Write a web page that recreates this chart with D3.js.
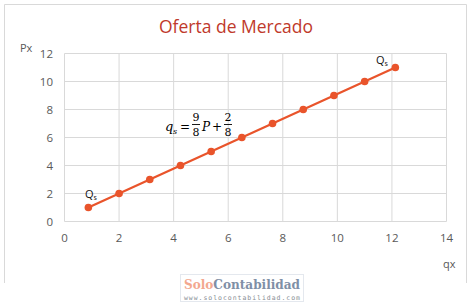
<!DOCTYPE html>
<html>
<head>
<meta charset="utf-8">
<script src="https://cdn.jsdelivr.net/npm/d3@7.9.0/dist/d3.min.js"></script>
<style>
  body { margin: 0; background: #fff; }
  svg { display: block; font-family: "Open Sans", "Liberation Sans", sans-serif; }
</style>
</head>
<body>
<svg id="chart" width="472" height="304"></svg>
<script>
// supply points: price P and quantity qx
const priceP = [1, 2, 3, 4, 5, 6, 7, 8, 9, 10, 11];
const quantityQ = [0.875, 2, 3.125, 4.25, 5.375, 6.5, 7.625, 8.75, 9.875, 11, 12.125];
const xTicks = [0, 2, 4, 6, 8, 10, 12, 14];
const yTicks = [0, 2, 4, 6, 8, 10, 12];

const svg = d3.select('#chart');
const lineColor = '#e9542b';

// chart frame (bottom edge is cut off in the picture)
svg.append('path')
  .attr('d', 'M4.5,283 V4.5 H466.5 V283')
  .attr('fill', 'none')
  .attr('stroke', '#d9d9d9');

svg.append('text')
  .attr('x', 236).attr('y', 33)
  .attr('text-anchor', 'middle')
  .attr('font-size', 17.5)
  .attr('fill', '#c0392b')
  .text('Oferta de Mercado');

let x = d3.scaleLinear().domain([0, 14]).range([64.5, 446.5]);
let y = d3.scaleLinear().domain([0, 12]).range([221.5, 53.5]);

// grid
svg.append('g').selectAll('line').data(xTicks).join('line')
  .attr('x1', d => x(d)).attr('x2', d => x(d))
  .attr('y1', y(0)).attr('y2', y(12))
  .attr('stroke', '#d9d9d9');
svg.append('g').selectAll('line').data(yTicks).join('line')
  .attr('x1', x(0)).attr('x2', x(14))
  .attr('y1', d => y(d)).attr('y2', d => y(d))
  .attr('stroke', '#d9d9d9');

// tick labels
svg.append('g').selectAll('text').data(xTicks).join('text')
  .attr('x', d => x(d)).attr('y', 242)
  .attr('text-anchor', 'middle')
  .attr('font-size', 11.5).attr('fill', '#595959')
  .text(d => d);
svg.append('g').selectAll('text').data(yTicks).join('text')
  .attr('x', 53).attr('y', d => y(d) + 4)
  .attr('text-anchor', 'end')
  .attr('font-size', 11.5).attr('fill', '#595959')
  .text(d => d);

svg.append('text').attr('x', 20).attr('y', 52)
  .attr('font-size', 11).attr('fill', '#595959').text('Px');
svg.append('text').attr('x', 443).attr('y', 268)
  .attr('font-size', 11).attr('fill', '#595959').text('qx');

// supply line and markers
let pts = priceP.map((p, i) => ({ p: p, q: quantityQ[i] }));
let line = d3.line().x(d => x(d.q)).y(d => y(d.p));
svg.append('path')
  .attr('d', line(pts))
  .attr('fill', 'none')
  .attr('stroke', lineColor)
  .attr('stroke-width', 2.2);
svg.append('g').selectAll('circle').data(pts).join('circle')
  .attr('cx', d => x(d.q)).attr('cy', d => y(d.p))
  .attr('r', 3.8)
  .attr('fill', lineColor);

// Qs labels at both ends
function qsLabel(px, py) {
  let t = svg.append('text').attr('x', px).attr('y', py)
    .attr('font-size', 11).attr('fill', '#111');
  t.append('tspan').text('Q');
  t.append('tspan').attr('font-size', 7).attr('dy', 2).text('s');
}
qsLabel(85, 198);
qsLabel(376, 64);

// equation  q_s = 9/8 P + 2/8
let eq = svg.append('g').attr('font-family', '"DejaVu Serif", "Liberation Serif", serif').attr('fill', '#000');
eq.append('text').attr('x', 165).attr('y', 131).attr('font-size', 13).attr('font-style', 'italic').text('q');
eq.append('text').attr('x', 173).attr('y', 134).attr('font-size', 8).attr('font-style', 'italic').text('s');
eq.append('text').attr('x', 180).attr('y', 131).attr('font-size', 12).text('=');
function frac(cx, num, den) {
  eq.append('text').attr('x', cx).attr('y', 121).attr('font-size', 11).attr('text-anchor', 'middle').text(num);
  eq.append('line').attr('x1', cx - 4).attr('x2', cx + 4).attr('y1', 124.5).attr('y2', 124.5)
    .attr('stroke', '#000').attr('stroke-width', 0.9);
  eq.append('text').attr('x', cx).attr('y', 136).attr('font-size', 11).attr('text-anchor', 'middle').text(den);
}
frac(196, '9', '8');
eq.append('text').attr('x', 202).attr('y', 131).attr('font-size', 12).attr('font-style', 'italic').text('P');
eq.append('text').attr('x', 212).attr('y', 131).attr('font-size', 12).text('+');
frac(228, '2', '8');

// watermark
let wm = svg.append('g');
wm.append('rect').attr('x', 180.5).attr('y', 274.5).attr('width', 123).attr('height', 27)
  .attr('fill', '#fff').attr('stroke', '#e4e8ee');
let wt = wm.append('text').attr('x', 184).attr('y', 288.5)
  .attr('font-family', '"DejaVu Serif", "Liberation Serif", serif').attr('font-size', 12.5)
  .attr('font-weight', 'bold')
  .attr('textLength', 116).attr('lengthAdjust', 'spacingAndGlyphs');
wt.append('tspan').attr('fill', '#f3a88f').text('Solo');
wt.append('tspan').attr('fill', '#7f8fa6').text('Contabilidad');
wm.append('text').attr('x', 184).attr('y', 299.5)
  .attr('font-family', '"DejaVu Sans Mono", monospace').attr('font-size', 6.5)
  .attr('textLength', 116).attr('fill', '#8a8f96')
  .text('www.solocontabilidad.com');
</script>
</body>
</html>
